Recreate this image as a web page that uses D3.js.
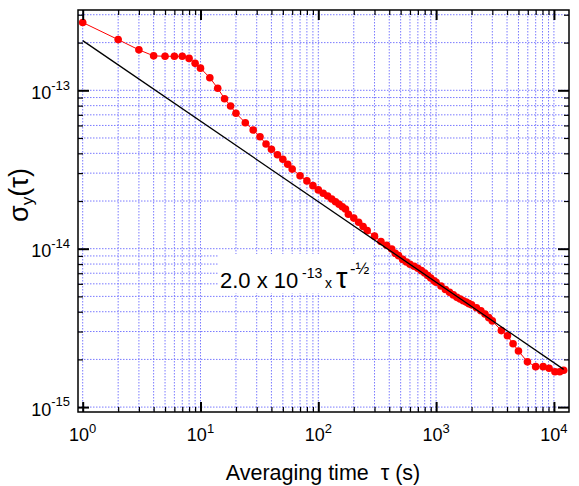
<!DOCTYPE html>
<html>
<head>
<meta charset="utf-8">
<script src="https://cdn.jsdelivr.net/npm/d3@7"></script>
<style>
  html, body { margin: 0; padding: 0; background: #fff; }
  text { font-family: "Liberation Sans", Arial, Helvetica, sans-serif; }
</style>
</head>
<body>
<svg id="chart" width="579" height="486"></svg>
<script>
// ---- data ----
const tau = [1,2,3,4,5,6,7,8,9,10,12,14,16,18,20,24,28,32,36,40,45,50,55,60,70,80,90,100,
  110,120,130,140,150,160,170,180,200,220,240,260,300,340,380,420,
  450,480,520,560,600,650,700,750,800,850,900,960,1000,1100,1200,1300,1400,1500,1600,1700,
  1800,1900,2000,2200,2400,2600,2800,3000,
  3580,4030,4500,5000,5960,7000,8100,9100,10200,11200,12100];
const sigma = [2.68e-13,2.09e-13,1.80e-13,1.65e-13,1.64e-13,1.64e-13,1.64e-13,1.59e-13,1.48e-13,1.38e-13,
  1.20e-13,1.03e-13,8.85e-14,7.96e-14,7.16e-14,6.24e-14,5.61e-14,5.09e-14,4.58e-14,4.24e-14,3.92e-14,
  3.67e-14,3.41e-14,3.18e-14,2.89e-14,2.68e-14,2.50e-14,2.35e-14,
  2.24e-14,2.15e-14,2.06e-14,1.98e-14,1.91e-14,1.84e-14,1.78e-14,1.65e-14,1.56e-14,1.47e-14,1.38e-14,
  1.30e-14,1.20e-14,1.11e-14,1.05e-14,9.96e-15,
  9.35e-15,9.04e-15,8.56e-15,8.25e-15,7.97e-15,7.75e-15,7.53e-15,7.27e-15,7.03e-15,6.77e-15,6.53e-15,
  6.28e-15,6.14e-15,5.81e-15,5.53e-15,5.30e-15,5.11e-15,4.93e-15,4.81e-15,4.69e-15,
  4.60e-15,4.50e-15,4.42e-15,4.24e-15,4.06e-15,3.87e-15,3.67e-15,3.50e-15,
  3.04e-15,2.82e-15,2.51e-15,2.26e-15,1.93e-15,1.80e-15,1.80e-15,1.76e-15,1.67e-15,1.67e-15,1.71e-15];
// reference line 2.0e-13 * tau^-1/2 (end points as drawn)
const fitTau = [1, 12100];
const fitSigma = [2.06e-13, 1.73e-15];
// tick labels
const xTickExps = [0,1,2,3,4];
const yTickExps = [-13,-14,-15];

// ---- layout ----
const svg = d3.select("#chart");
const L = 78, R = 569, T = 10, B = 412;
const x = d3.scaleLog().domain([Math.pow(10,-0.0399), Math.pow(10,4.128)]).range([L, R]);
const y = d3.scaleLog().domain([Math.pow(10,-15.031), Math.pow(10,-12.493)]).range([B, T]);

// grid values (1..9 per decade inside domain)
const xGrid = [], yGrid = [];
for (let d = 0; d <= 4; d++) for (let m = 1; m <= 9; m++) {
  const v = m * Math.pow(10, d);
  if (v >= x.domain()[0] && v <= x.domain()[1]) xGrid.push(v);
}
for (let d = -15; d <= -13; d++) for (let m = 1; m <= 9; m++) {
  const v = m * Math.pow(10, d);
  if (v >= y.domain()[0] && v <= y.domain()[1]) yGrid.push(v);
}

const grid = svg.append("g");
grid.selectAll("line.gx").data(xGrid).enter().append("line")
  .attr("x1", d => x(d)).attr("x2", d => x(d)).attr("y1", T).attr("y2", B)
  .attr("stroke", "#7a7aff").attr("stroke-width", 1).attr("stroke-dasharray", "1.5,1.5");
grid.selectAll("line.gy").data(yGrid).enter().append("line")
  .attr("y1", d => y(d)).attr("y2", d => y(d)).attr("x1", L).attr("x2", R)
  .attr("stroke", "#7a7aff").attr("stroke-width", 1).attr("stroke-dasharray", "1.5,1.5");

// annotation background box
svg.append("rect").attr("x", 218).attr("y", 254).attr("width", 155).attr("height", 39).attr("fill", "#fff");

const line = d3.line().x(d => x(d[0])).y(d => y(d[1]));

// data
const pts = tau.map((t,i) => [t, sigma[i]]);
svg.append("path").datum(pts).attr("d", line).attr("fill", "none")
  .attr("stroke", "#ff0000").attr("stroke-width", 1);
svg.selectAll("circle.pt").data(pts).enter().append("circle")
  .attr("cx", d => x(d[0])).attr("cy", d => y(d[1])).attr("r", 3.8).attr("fill", "#ff0000");

// fit line (drawn over the data, as in the reference)
svg.append("path").datum(fitTau.map((t,i) => [t, fitSigma[i]]))
  .attr("d", line).attr("fill", "none").attr("stroke", "#000").attr("stroke-width", 1.3);

// ticks (inward) on all four sides using d3 axes
const isMajor = v => Math.abs(Math.log10(v) - Math.round(Math.log10(v))) < 1e-9;
const xMinor = xGrid.filter(v => !isMajor(v)), xMajor = xGrid.filter(isMajor);
const yMinor = yGrid.filter(v => !isMajor(v)), yMajor = yGrid.filter(isMajor);
function ax(gen, vals, size, transform, sw) {
  const g = svg.append("g").attr("transform", transform)
    .call(gen.tickValues(vals).tickSize(size).tickFormat(""));
  g.select(".domain").remove();
  g.selectAll(".tick line").attr("stroke", "#000").attr("stroke-width", sw);
}
ax(d3.axisBottom(x), xMinor, -5, `translate(0,${B})`, 1.2);
ax(d3.axisBottom(x), xMajor, -10, `translate(0,${B})`, 2);
ax(d3.axisTop(x), xMinor, -5, `translate(0,${T})`, 1.2);
ax(d3.axisTop(x), xMajor, -10, `translate(0,${T})`, 2);
ax(d3.axisLeft(y), yMinor, -5, `translate(${L},0)`, 1.2);
ax(d3.axisLeft(y), yMajor, -11, `translate(${L},0)`, 2);
ax(d3.axisRight(y), yMinor, -5, `translate(${R},0)`, 1.2);
ax(d3.axisRight(y), yMajor, -11, `translate(${R},0)`, 2);

// frame
svg.append("rect").attr("x", L).attr("y", T).attr("width", R - L).attr("height", B - T)
  .attr("fill", "none").attr("stroke", "#000").attr("stroke-width", 1.5);

// tick labels
xTickExps.forEach(e => {
  const t = svg.append("text").attr("x", x(Math.pow(10, e))).attr("y", 441)
    .attr("text-anchor", "middle").attr("font-size", 18).attr("fill", "#000");
  t.append("tspan").text("10");
  t.append("tspan").attr("font-size", 13).attr("dy", -8.5).text(e);
});
yTickExps.forEach(e => {
  const t = svg.append("text").attr("x", 70).attr("y", y(Math.pow(10, e)) + 8.7)
    .attr("text-anchor", "end").attr("font-size", 18).attr("fill", "#000");
  t.append("tspan").text("10");
  t.append("tspan").attr("font-size", 13).attr("dy", -9.5).text(e);
});

// axis titles
svg.append("text").attr("x", 323).attr("y", 480).attr("text-anchor", "middle")
  .attr("font-size", 21.5).attr("fill", "#000").text("Averaging time\u00a0 \u03c4 (s)");
const yt = svg.append("text").attr("transform", "translate(28,195) rotate(-90)")
  .attr("text-anchor", "middle").attr("font-size", 27).attr("fill", "#000");
yt.append("tspan").text("\u03c3");
yt.append("tspan").attr("font-size", 17).attr("dy", 5).text("y");
yt.append("tspan").attr("dy", -5).text("(\u03c4)");

// annotation
const an = svg.append("text").attr("y", 288).attr("fill", "#000");
an.append("tspan").attr("x", 220).attr("font-size", 22).text("2.0 x 10");
an.append("tspan").attr("x", 302).attr("font-size", 14).attr("dy", -10).text("-13");
an.append("tspan").attr("x", 325).attr("dy", 10).attr("font-size", 14).text("x");
an.append("tspan").attr("x", 336).attr("font-size", 29).text("\u03c4");
an.append("tspan").attr("x", 350).attr("dy", -14).attr("font-size", 16.5).text("-\u00bd");
</script>
</body>
</html>
